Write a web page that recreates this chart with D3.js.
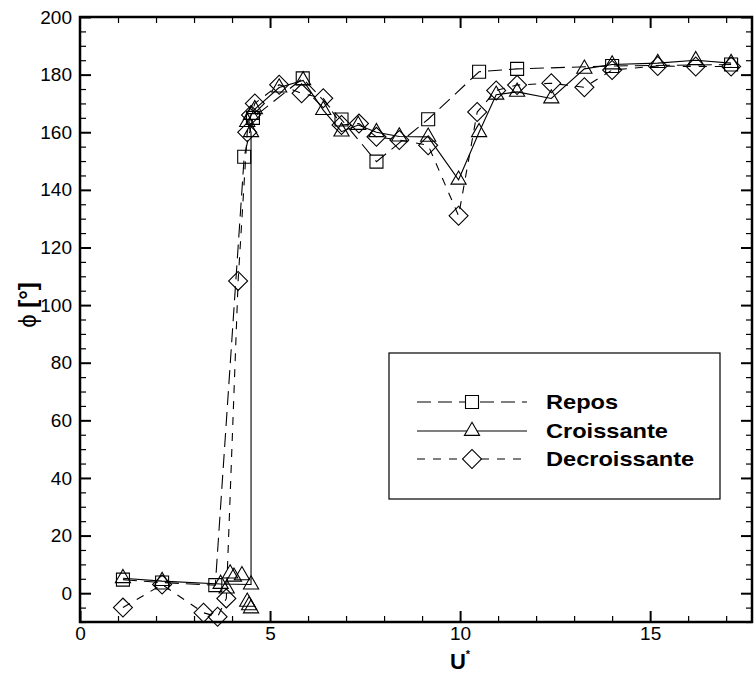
<!DOCTYPE html>
<html>
<head>
<meta charset="utf-8">
<script src="https://cdn.jsdelivr.net/npm/d3@7"></script>
<style>
  body { margin: 0; background: #fff; }
  text { font-family: "Liberation Sans", Arial, sans-serif; }
</style>
</head>
<body>
<div id="chart"></div>
<script>
// U* values and phase (deg)
const reposU   = [1.13, 2.16, 3.56, 4.32, 4.55, 5.86, 6.88, 7.8, 9.16, 10.5, 11.5, 14.0, 17.13];
const reposPhi = [4.7, 3.7, 2.8, 151.5, 165, 178.7, 164.4, 149.8, 164.5, 181, 182, 183, 183.5];

const croisU   = [1.13, 2.16, 3.7, 4.5, 4.5, 4.4, 4.5, 4.6, 5.24, 5.87, 6.4, 6.88, 7.32, 7.8, 8.4, 9.16, 9.96, 10.5, 10.95, 11.5, 12.4, 13.27, 14.0, 15.2, 16.2, 17.13];
const croisPhi = [5.2, 4.2, 3.2, 3.0, 160, 163.5, 166, 168, 175.5, 178, 167.7, 160.2, 162.5, 160, 158.5, 158.4, 143.5, 160, 173, 174, 171.7, 182, 183.5, 184, 185, 184];
// extra triangles near the jump that are not on the line
const croisExtraU   = [3.86, 3.95, 4.05, 4.26, 4.4, 4.45, 4.5];
const croisExtraPhi = [1.6, 6.8, 5.7, 6.2, -3, -4.2, -5.3];

const decrU   = [1.13, 2.16, 3.25, 3.62, 3.85, 4.16, 4.4, 4.5, 4.6, 5.24, 5.83, 6.4, 6.88, 7.34, 7.8, 8.4, 9.16, 9.96, 10.45, 10.95, 11.5, 12.4, 13.27, 14.0, 15.2, 16.2, 17.13];
const decrPhi = [-5, 3, -6.8, -8.2, -1.8, 108.4, 160, 166, 170, 176.5, 173.5, 171.8, 162.5, 163, 158.4, 157.3, 155.5, 131, 167, 174.5, 176.4, 177, 175.6, 181.6, 183, 182.8, 182.8];

const xTicks = [0, 5, 10, 15];
const yTicks = [0, 20, 40, 60, 80, 100, 120, 140, 160, 180, 200];
const seriesNames = ["Repos", "Croissante", "Decroissante"];

const width = 756;
const height = 673;
const plotLeft = 80, plotRight = 752, plotTop = 17, plotBottom = 622;

const svg = d3.select("#chart").append("svg").attr("width", width).attr("height", height);

const x = d3.scaleLinear().domain([0, 17.68]).range([plotLeft, plotRight]);
const y = d3.scaleLinear().domain([-10, 200]).range([plotBottom, plotTop]);

const xMinor = d3.range(0, 17.5, 1).filter(v => v % 5 !== 0);
const yMinor = d3.range(-10, 201, 5).filter(v => v % 20 !== 0);

function styleAxis(g) {
    g.select(".domain").remove();
    g.selectAll("line").attr("stroke", "#000").attr("stroke-width", 2);
    g.selectAll("text").attr("font-size", 19).attr("fill", "#000");
}

// bottom / top
svg.append("g").attr("transform", `translate(0,${plotBottom})`)
    .call(d3.axisBottom(x).tickValues(xTicks).tickSize(-11).tickPadding(5).tickFormat(d3.format("d")))
    .call(styleAxis);
svg.append("g").attr("transform", `translate(0,${plotBottom})`)
    .call(d3.axisBottom(x).tickValues(xMinor).tickSize(-6).tickFormat(""))
    .call(styleAxis).selectAll("line").attr("stroke-width", 1.2);
svg.append("g").attr("transform", `translate(0,${plotTop})`)
    .call(d3.axisTop(x).tickValues(xTicks.filter(v => v > 0)).tickSize(-11).tickFormat(""))
    .call(styleAxis);
svg.append("g").attr("transform", `translate(0,${plotTop})`)
    .call(d3.axisTop(x).tickValues(xMinor).tickSize(-6).tickFormat(""))
    .call(styleAxis).selectAll("line").attr("stroke-width", 1.2);

// left / right
svg.append("g").attr("transform", `translate(${plotLeft},0)`)
    .call(d3.axisLeft(y).tickValues(yTicks).tickSize(-11).tickPadding(8).tickFormat(d3.format("d")))
    .call(styleAxis);
svg.append("g").attr("transform", `translate(${plotLeft},0)`)
    .call(d3.axisLeft(y).tickValues(yMinor).tickSize(-6).tickFormat(""))
    .call(styleAxis).selectAll("line").attr("stroke-width", 1.2);
svg.append("g").attr("transform", `translate(${plotRight},0)`)
    .call(d3.axisRight(y).tickValues(yTicks).tickSize(-11).tickFormat(""))
    .call(styleAxis);
svg.append("g").attr("transform", `translate(${plotRight},0)`)
    .call(d3.axisRight(y).tickValues(yMinor).tickSize(-6).tickFormat(""))
    .call(styleAxis).selectAll("line").attr("stroke-width", 1.2);

// frame
svg.append("rect")
    .attr("x", plotLeft).attr("y", plotTop)
    .attr("width", plotRight - plotLeft).attr("height", plotBottom - plotTop)
    .attr("fill", "none").attr("stroke", "#000").attr("stroke-width", 2.5);

const line = d3.line().x(d => x(d[0])).y(d => y(d[1]));

const symSquare = d3.symbol().type(d3.symbolSquare).size(169);
const symTri = d3.symbol().type(d3.symbolTriangle).size(100);
const symDiam = d3.symbol().type(d3.symbolSquare).size(180);

const series = [
    { name: seriesNames[0], pts: d3.zip(reposU, reposPhi), extra: [], dash: "14,7", sym: symSquare, rot: 0 },
    { name: seriesNames[1], pts: d3.zip(croisU, croisPhi), extra: d3.zip(croisExtraU, croisExtraPhi), dash: null, sym: symTri, rot: 0 },
    { name: seriesNames[2], pts: d3.zip(decrU, decrPhi), extra: [], dash: "8,8", sym: symDiam, rot: 45 }
];

const plot = svg.append("g");
series.forEach(s => {
    plot.append("path")
        .datum(s.pts)
        .attr("d", line)
        .attr("fill", "none")
        .attr("stroke", "#000")
        .attr("stroke-width", 1.1)
        .attr("stroke-dasharray", s.dash);
    plot.selectAll(null)
        .data(s.pts.concat(s.extra))
        .enter()
        .append("path")
        .attr("d", s.sym)
        .attr("transform", d => `translate(${x(d[0])},${y(d[1])}) rotate(${s.rot})`)
        .attr("fill", "none")
        .attr("stroke", "#000")
        .attr("stroke-width", 1.1);
});

// legend
const legend = svg.append("g");
legend.append("rect")
    .attr("x", 389).attr("y", 353).attr("width", 331).attr("height", 146)
    .attr("fill", "#fff").attr("stroke", "#000").attr("stroke-width", 1.2);

const legRows = [402, 431, 459];
series.forEach((s, i) => {
    const ly = legRows[i];
    legend.append("line")
        .attr("x1", 417).attr("x2", 527).attr("y1", ly).attr("y2", ly)
        .attr("stroke", "#000").attr("stroke-width", 1.1)
        .attr("stroke-dasharray", s.dash);
    legend.append("path")
        .attr("d", s.sym)
        .attr("transform", `translate(472,${ly}) rotate(${s.rot})`)
        .attr("fill", "#fff").attr("stroke", "#000").attr("stroke-width", 1.1);
    legend.append("text")
        .attr("transform", `translate(546,${ly + 7}) scale(1.18,1)`)
        .attr("font-size", 20).attr("font-weight", "bold")
        .text(s.name);
});

// axis titles
svg.append("text")
    .attr("x", 460).attr("y", 669)
    .attr("text-anchor", "middle")
    .attr("font-size", 22).attr("font-weight", "bold")
    .text("U")
    .append("tspan").attr("dy", -11).attr("font-size", 11).text("*");

const yTitle = svg.append("text")
    .attr("transform", "translate(36,305) rotate(-90)")
    .attr("text-anchor", "middle")
    .attr("font-size", 24);
yTitle.append("tspan").text("ϕ ");
yTitle.append("tspan").attr("font-weight", "bold").text("[°]");
</script>
</body>
</html>
